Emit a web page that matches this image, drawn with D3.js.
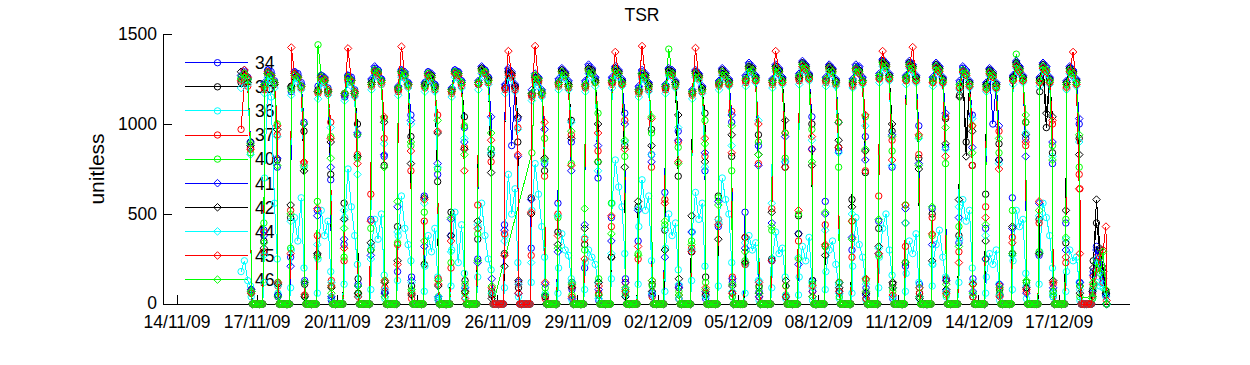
<!DOCTYPE html>
<html><head><meta charset="utf-8">
<script src="https://cdn.jsdelivr.net/npm/d3@7"></script>
<style>body{margin:0;background:#fff}svg{display:block}text{font-family:Arial,"Liberation Sans",sans-serif}</style>
</head><body><svg id="c" width="1250" height="365"></svg>
<script>
// ---------- data ----------
const title = "TSR";
const yLabel = "unitless";
const seriesNames = ["34","35","36","37","40","41","42","44","45","46"];
const seriesColors = ["#0000ff","#000000","#00ffff","#ff0000","#00ff00","#0000ff","#000000","#00ffff","#ff0000","#00ff00"];
const seriesMarkers = ["circle","circle","circle","circle","circle","diamond","diamond","diamond","diamond","diamond"];
const firstDay = "2009-11-16";          // day index 0
const sampleHours = [0.7,2.1,3.5,4.9,6,6.6,9.5,12.5,15.5,18,18.6,19.8,21.1,22.4]; // hour of day of each value
const yTicks = [0,500,1000,1500];
const xTickDates = ["2009-11-14","2009-11-17","2009-11-20","2009-11-23","2009-11-26","2009-11-29","2009-12-02","2009-12-05","2009-12-08","2009-12-11","2009-12-14","2009-12-17"];
// one string per day; "-" = no sample, "n" = break in the line
const s34 = ["- - - - - - 1250 1290 1260 870 60 0 0 0","0 0 0 0 410 1220 1300 1290 1240 760 40 0 0 0","0 0 0 0 260 1180 1290 1280 1230 1010 130 0 0 0","0 0 0 0 520 1210 1270 1250 1200 690 20 0 0 0","0 0 0 0 330 1150 1270 1260 1190 940 110 0 0 0","0 0 0 0 470 1240 1310 1300 1250 820 70 0 0 0","0 0 0 0 180 1200 1300 1280 1230 1050 150 0 0 0","0 0 0 0 600 1230 1290 1270 1220 720 30 0 0 0","0 0 0 0 380 1190 1300 1290 1240 980 90 0 0 0","0 0 0 0 250 1220 1310 1300 1260 860 50 0 0 0","0 0 0 0 440 1210 1300 880 1210 1030 120 0 0 0","0 0 0 0 310 1170 1270 1250 1180 780 40 0 0 0","0 0 0 0 560 1240 1300 1280 1230 900 80 0 0 0","0 0 0 0 200 1230 1320 1300 1250 700 20 0 0 0","0 0 0 0 480 1250 1310 1290 1240 1060 140 0 0 0","0 0 0 0 350 1200 1290 1270 1220 830 60 0 0 0","0 0 0 0 620 1210 1300 1290 1230 960 100 0 0 0","0 0 0 0 290 1180 1290 1270 1200 740 30 0 0 0","0 0 0 0 430 1230 1300 1280 1240 1010 120 0 0 0","0 0 0 0 510 1260 1330 1310 1260 880 70 0 0 0","0 0 0 0 240 1240 1320 1300 1250 790 40 0 0 0","0 0 0 0 390 1270 1340 1320 1270 1040 130 0 0 0","0 0 0 0 570 1250 1320 1300 1240 850 60 0 0 0","0 0 0 0 300 1240 1320 1310 1250 930 90 0 0 0","0 0 0 0 460 1270 1350 1330 1270 760 30 0 0 0","0 0 0 0 210 1260 1340 1320 1260 990 110 0 0 0","0 0 0 0 530 1250 1330 1310 1250 870 70 0 0 0","0 0 0 0 340 1230 1310 1290 1230 1050 140 0 0 0","0 0 0 0 420 1220 1300 1000 1220 800 50 0 0 0","0 0 0 0 590 1260 1340 1310 1260 920 90 0 0 0","0 0 0 0 270 1250 1330 1310 1250 780 40 0 0 0","0 0 0 0 450 1230 1310 1290 1240 1000 120 0 0 0","0 0 0 0 60 180 320 260 150 60 0 - - -"];
const s35 = ["- - - - - - 1230 1280 1250 900 80 0 0 0","0 0 0 0 350 1200 1290 1270 1230 800 50 0 0 0","0 0 0 0 480 1210 1270 1260 1210 960 110 0 0 0","0 0 0 0 270 1190 1260 1240 1180 720 30 0 0 0","0 0 0 0 560 1170 1250 1240 1170 1000 140 0 0 0","0 0 0 0 300 1220 1290 1280 1240 770 60 0 0 0","0 0 0 0 430 1190 1280 1270 1220 930 100 0 0 0","0 0 0 0 220 1210 1270 1250 1200 680 20 0 0 0","0 0 0 0 510 1180 1290 1270 1230 1040 130 0 0 0","0 0 0 0 360 1230 1300 1290 1240 830 70 0 0 0","0 0 0 0 280 1200 1280 1270 1200 900 90 0 0 0","0 0 0 0 590 1160 1250 1240 1170 740 40 0 0 0","0 0 0 0 400 1220 1290 1270 1210 1020 120 0 0 0","0 0 0 0 330 1210 1300 1290 1240 790 50 0 0 0","0 0 0 0 260 1230 1300 1280 1230 880 80 0 0 0","0 0 0 0 540 1180 1270 1260 1200 970 110 0 0 0","0 0 0 0 410 1200 1290 1280 1220 710 30 0 0 0","0 0 0 0 290 1170 1280 1260 1190 1060 150 0 0 0","0 0 0 0 600 1220 1290 1270 1230 820 60 0 0 0","0 0 0 0 370 1240 1310 1300 1250 940 100 0 0 0","0 0 0 0 250 1230 1310 1290 1240 760 40 0 0 0","0 0 0 0 490 1250 1330 1310 1260 1000 130 0 0 0","0 0 0 0 320 1240 1310 1290 1230 870 70 0 0 0","0 0 0 0 580 1220 1300 1290 1240 730 30 0 0 0","0 0 0 0 420 1260 1340 1320 1260 960 110 0 0 0","0 0 0 0 230 1250 1330 1310 1250 810 60 0 0 0","0 0 0 0 500 1240 1320 1300 1240 1030 140 0 0 0","0 0 0 0 380 1160 1290 900 1220 770 40 0 0 0","0 0 0 0 610 1210 1290 1270 1210 890 80 0 0 0","0 0 0 0 280 1250 1330 1300 1250 1010 120 0 0 0","0 0 0 0 470 1180 1310 980 1240 840 70 0 0 0","0 0 0 0 340 1220 1300 1280 1230 920 100 0 0 0","0 0 0 0 80 240 450 300 200 70 0 - - -"];
const s36 = ["- - - - - - 180 240 130 100 40 0 0 0","0 0 0 0 120 700 1240 1150 560 250 60 0 0 0","0 0 0 0 90 300 480 350 590 200 40 0 0 0","0 0 0 0 60 250 520 380 460 180 30 0 0 0","0 0 0 0 110 480 750 540 380 220 50 0 0 0","0 0 0 0 80 320 470 360 500 160 30 0 0 0","0 0 0 0 130 380 600 420 330 240 60 0 0 0","0 0 0 0 70 210 380 290 420 150 20 0 0 0","0 0 0 0 100 300 510 230 440 170 40 0 0 0","0 0 0 0 150 420 560 380 250 190 50 0 0 0","0 0 0 0 90 380 720 500 640 230 40 0 0 0","0 0 0 0 120 520 780 610 430 260 60 0 0 0","0 0 0 0 60 200 390 300 270 140 20 0 0 0","0 0 0 0 80 230 300 260 220 120 30 0 0 0","0 0 0 0 140 560 800 650 540 280 50 0 0 0","0 0 0 0 110 430 690 520 600 240 40 0 0 0","0 0 0 0 70 310 500 380 450 190 30 0 0 0","0 0 0 0 130 400 620 470 560 210 50 0 0 0","0 0 0 0 100 450 700 580 500 230 40 0 0 0","0 0 0 0 60 220 380 300 340 130 20 0 0 0","0 0 0 0 90 250 400 280 310 150 30 0 0 0","0 0 0 0 50 150 320 240 370 120 20 0 0 0","0 0 0 0 80 180 300 350 220 110 30 0 0 0","0 0 0 0 60 210 480 330 260 140 20 0 0 0","0 0 0 0 90 260 420 500 300 160 40 0 0 0","0 0 0 0 70 170 350 280 390 120 30 0 0 0","0 0 0 0 100 220 330 410 260 150 40 0 0 0","0 0 0 0 120 360 580 460 520 200 50 0 0 0","0 0 0 0 60 150 280 220 300 110 20 0 0 0","0 0 0 0 80 240 520 430 470 170 30 0 0 0","0 0 0 0 110 290 560 480 380 200 40 0 0 0","0 0 0 0 70 180 300 240 260 120 20 0 0 0","0 0 0 0 30 80 120 100 90 40 0 - - -"];
const s37 = ["- - - - - - 970 1230 1210 860 70 0 0 0","0 0 0 0 290 1190 1270 1260 1220 940 100 0 0 0","0 0 0 0 520 1200 1260 1250 1200 780 50 0 0 0","0 0 0 0 380 1170 1250 1230 1170 1010 130 0 0 0","0 0 0 0 240 1160 1240 1230 1160 830 60 0 0 0","0 0 0 0 610 1210 1280 1270 1220 920 90 0 0 0","0 0 0 0 330 1180 1270 1260 1210 740 30 0 0 0","0 0 0 0 460 1200 1260 1240 1190 1050 140 0 0 0","0 0 0 0 200 1170 1280 1260 1210 870 70 0 0 0","0 0 0 0 550 1220 1290 1280 1230 790 50 0 0 0","0 0 0 0 390 1190 1270 1260 1190 980 110 0 0 0","0 0 0 0 270 1150 1240 1230 1160 710 30 0 0 0","0 0 0 0 500 1210 1280 1260 1200 940 100 0 0 0","0 0 0 0 360 1200 1290 1280 1230 850 60 0 0 0","0 0 0 0 430 1220 1290 1270 1220 1020 120 0 0 0","0 0 0 0 250 1170 1260 1250 1190 760 40 0 0 0","0 0 0 0 580 1190 1280 1270 1210 900 90 0 0 0","0 0 0 0 310 1160 1270 1250 1180 820 60 0 0 0","0 0 0 0 470 1210 1280 1260 1220 1070 150 0 0 0","0 0 0 0 220 1230 1300 1290 1240 780 40 0 0 0","0 0 0 0 530 1220 1300 1280 1230 950 100 0 0 0","0 0 0 0 350 1240 1320 1300 1250 860 70 0 0 0","0 0 0 0 440 1230 1300 1280 1220 1010 120 0 0 0","0 0 0 0 260 1210 1290 1280 1230 740 30 0 0 0","0 0 0 0 600 1250 1330 1310 1250 910 90 0 0 0","0 0 0 0 320 1240 1320 1300 1240 830 60 0 0 0","0 0 0 0 480 1230 1310 1290 1230 1040 130 0 0 0","0 0 0 0 290 1200 1290 1270 1210 770 40 0 0 0","0 0 0 0 540 1200 1280 1260 1200 960 100 0 0 0","0 0 0 0 370 1240 1320 1290 1240 880 70 0 0 0","0 0 0 0 450 1230 1310 1290 1230 1000 110 0 0 0","0 0 0 0 230 1210 1290 1270 1220 720 640 0 0 0","0 0 0 0 50 150 260 200 120 50 0 - - -"];
const s40 = ["- - - - - - 1260 1280 1240 840 60 0 0 0","0 0 0 0 450 1210 1290 1270 1230 1000 120 0 0 0","0 0 0 0 310 1190 1280 1260 1210 760 40 0 0 0","0 0 0 0 570 1440 1270 1250 1190 930 100 0 0 0","0 0 0 0 260 1170 1260 1240 1180 810 60 0 0 0","0 0 0 0 420 1230 1300 1290 1240 1030 130 0 0 0","0 0 0 0 340 1200 1290 1280 1220 880 70 0 0 0","0 0 0 0 510 1220 1280 1260 1210 750 40 0 0 0","0 0 0 0 230 1180 1290 1280 1230 990 110 0 0 0","0 0 0 0 390 1230 1300 1290 1250 860 60 0 - -","- - - - - - - - - - - - - -","- - - - - 840 1270 1240 1180 920 90 0 0 0","0 0 0 0 480 1220 1290 1270 1220 780 50 0 0 0","0 0 0 0 300 1210 1300 1290 1240 1060 140 0 0 0","0 0 0 0 560 1240 1300 1280 1230 820 60 0 0 0","0 0 0 0 280 1180 1280 1260 1210 950 100 0 0 0","0 0 0 0 440 1210 1416 1280 1220 870 70 0 0 0","0 0 0 0 350 1170 1280 1260 1190 1020 120 0 0 0","0 0 0 0 590 1220 1290 1270 1230 740 40 0 0 0","0 0 0 0 240 1250 1320 1300 1250 900 90 0 0 0","0 0 0 0 410 1230 1310 1290 1240 810 50 0 0 0","0 0 0 0 500 1260 1330 1310 1260 970 110 0 0 0","0 0 0 0 320 1240 1310 1290 1230 760 40 0 0 0","0 0 0 0 460 1230 1300 1290 1240 1040 130 0 0 0","0 0 0 0 270 1260 1340 1320 1260 850 70 0 0 0","0 0 0 0 550 1250 1330 1310 1250 930 90 0 0 0","0 0 0 0 380 1240 1320 1300 1240 780 50 0 0 0","0 0 0 0 430 1210 1300 1280 1220 990 110 0 0 0","0 0 0 0 250 1200 1290 1270 1210 840 60 0 0 0","0 0 0 0 520 1250 1388 1300 1250 1010 120 0 0 0","0 0 0 0 290 1240 1320 1300 1240 880 70 0 0 0","0 0 0 0 470 1220 1300 1280 1230 760 40 - - -","- - - - 30 100 200 290 150 60 0 - - -"];
const s41 = ["- - - - - - 1270 1300 1250 900 80 0 0 0","0 0 0 0 380 1230 1300 1280 1230 810 50 0 0 0","0 0 0 0 210 1200 1290 1270 1220 1000 120 0 0 0","0 0 0 0 490 1180 1270 1260 1190 760 40 0 0 0","0 0 0 0 360 1160 1270 1250 1180 950 100 0 0 0","0 0 0 0 270 1250 1320 1300 1250 830 60 0 0 0","0 0 0 0 540 1210 1300 1290 1230 1020 130 0 0 0","0 0 0 0 320 1230 1290 1280 1220 780 40 0 0 0","0 0 0 0 470 1200 1300 1290 1240 900 90 0 0 0","0 0 0 0 230 1240 1320 1300 1260 1040 140 0 0 0","0 0 0 0 410 1220 1310 1290 1220 820 60 0 0 0","0 0 0 0 580 1190 1280 1260 1190 970 110 0 0 0","0 0 0 0 290 1250 1310 1290 1240 740 30 0 0 0","0 0 0 0 440 1240 1330 1310 1260 880 80 0 0 0","0 0 0 0 350 1260 1320 1300 1250 1000 120 0 0 0","0 0 0 0 520 1210 1300 1280 1230 790 50 0 0 0","0 0 0 0 260 1220 1310 1300 1240 910 90 0 0 0","0 0 0 0 400 1190 1300 1280 1210 840 70 0 0 0","0 0 0 0 570 1240 1310 1290 1250 1050 140 0 0 0","0 0 0 0 310 1270 1340 1320 1270 770 40 0 0 0","0 0 0 0 450 1250 1330 1310 1260 930 100 0 0 0","0 0 0 0 220 1280 1350 1330 1280 860 70 0 0 0","0 0 0 0 500 1260 1330 1310 1250 1010 120 0 0 0","0 0 0 0 370 1250 1330 1320 1260 800 50 0 0 0","0 0 0 0 280 1280 1360 1340 1280 940 90 0 0 0","0 0 0 0 530 1270 1350 1330 1270 780 40 0 0 0","0 0 0 0 330 1260 1340 1320 1260 1060 130 0 0 0","0 0 0 0 480 1240 1320 1300 1240 870 70 0 0 0","0 0 0 0 250 1230 1310 1290 1230 990 110 0 0 0","0 0 0 0 420 1270 1350 1320 1270 820 60 0 0 0","0 0 0 0 560 1260 1340 1320 1260 900 90 0 0 0","0 0 0 0 300 1240 1320 1300 1250 1030 120 0 0 0","0 0 0 0 40 160 300 230 140 50 0 - - -"];
const s42 = ["- - - - - - 1290 1270 1230 880 70 0 0 0","0 0 0 0 310 1220 1280 1270 1220 970 110 0 0 0","0 0 0 0 550 1210 1280 1260 1210 740 40 0 0 0","0 0 0 0 280 1180 1260 1240 1180 900 90 0 0 0","0 0 0 0 470 1170 1260 1240 1170 820 60 0 0 0","0 0 0 0 340 1230 1300 1290 1240 1010 120 0 0 0","0 0 0 0 240 1200 1290 1270 1220 780 50 0 0 0","0 0 0 0 590 1220 1280 1270 1210 950 100 0 0 0","0 0 0 0 380 1190 1290 1280 1230 860 70 0 0 0","0 0 0 0 460 1230 1310 1290 1250 730 30 0 0 0","0 0 0 0 210 1200 1290 1280 1210 1040 130 0 0 0","0 0 0 0 500 1170 1260 1250 1170 810 50 0 0 0","0 0 0 0 330 1230 1300 1280 1220 920 90 0 0 0","0 0 0 0 420 1220 1310 1300 1240 1000 120 0 0 0","0 0 0 0 260 1240 1310 1290 1240 760 40 0 0 0","0 0 0 0 570 1190 1280 1270 1220 880 70 0 0 0","0 0 0 0 300 1210 1300 1290 1230 1050 140 0 0 0","0 0 0 0 490 1180 1290 1270 1200 790 50 0 0 0","0 0 0 0 360 1230 1300 1280 1240 940 100 0 0 0","0 0 0 0 230 1250 1320 1310 1260 830 60 0 0 0","0 0 0 0 510 1240 1320 1300 1250 1020 130 0 0 0","0 0 0 0 390 1260 1340 1320 1270 770 40 0 0 0","0 0 0 0 270 1250 1320 1300 1240 910 90 0 0 0","0 0 0 0 540 1230 1310 1300 1240 850 60 0 0 0","0 0 0 0 320 1270 1350 1330 1270 1000 120 0 0 0","0 0 0 0 450 1260 1340 1320 1260 750 30 0 0 0","0 0 0 0 240 1250 1330 1310 1250 890 80 0 0 0","0 0 0 0 580 1150 1300 820 1230 960 110 0 0 0","0 0 0 0 350 1220 1300 1280 1220 800 50 0 0 0","0 0 0 0 430 1260 1340 1310 1260 940 90 0 0 0","0 0 0 0 280 1250 1330 1060 1250 1040 130 0 0 0","0 0 0 0 520 1230 1310 1290 1240 830 60 0 0 0","0 0 0 0 70 200 580 310 180 60 0 - - -"];
const s44 = ["- - - - - - 1200 1260 1220 830 70 0 0 0","0 0 0 0 270 1170 1260 1240 1200 930 100 0 0 0","0 0 0 0 460 1160 1250 1230 1190 770 50 0 0 0","0 0 0 0 330 1140 1230 1220 1160 980 120 0 0 0","0 0 0 0 520 1130 1230 1210 1150 720 40 0 0 0","0 0 0 0 250 1190 1270 1260 1220 890 80 0 0 0","0 0 0 0 400 1160 1260 1250 1200 1000 120 0 0 0","0 0 0 0 560 1180 1250 1230 1180 760 40 0 0 0","0 0 0 0 290 1150 1260 1250 1200 920 90 0 0 0","0 0 0 0 440 1190 1280 1260 1220 840 60 0 0 0","0 0 0 0 350 1170 1260 1250 1180 970 110 0 0 0","0 0 0 0 230 1130 1230 1210 1150 790 50 0 0 0","0 0 0 0 490 1190 1270 1250 1190 1010 120 0 0 0","0 0 0 0 370 1180 1280 1260 1210 740 30 0 0 0","0 0 0 0 280 1200 1280 1260 1210 900 80 0 0 0","0 0 0 0 530 1150 1250 1240 1180 830 60 0 0 0","0 0 0 0 420 1170 1270 1260 1200 980 110 0 0 0","0 0 0 0 300 1140 1260 1240 1170 760 40 0 0 0","0 0 0 0 470 1190 1270 1250 1210 880 70 0 0 0","0 0 0 0 340 1210 1290 1280 1230 1020 130 0 0 0","0 0 0 0 560 1200 1290 1270 1220 790 50 0 0 0","0 0 0 0 260 1220 1310 1290 1240 910 90 0 0 0","0 0 0 0 410 1210 1290 1270 1210 840 60 0 0 0","0 0 0 0 500 1200 1290 1280 1220 990 110 0 0 0","0 0 0 0 310 1230 1320 1300 1240 770 40 0 0 0","0 0 0 0 450 1220 1310 1290 1230 920 90 0 0 0","0 0 0 0 220 1210 1300 1280 1220 860 70 0 0 0","0 0 0 0 540 1190 1280 1260 1200 1030 120 0 0 0","0 0 0 0 380 1180 1270 1250 1190 780 50 0 0 0","0 0 0 0 270 1220 1310 1280 1230 950 100 0 0 0","0 0 0 0 490 1210 1300 1280 1220 820 60 0 0 0","0 0 0 0 360 1190 1280 1260 1210 900 80 0 0 0","0 0 0 0 40 120 250 180 110 40 0 - - -"];
const s45 = ["- - - - - - 1240 1300 1260 860 60 0 0 0","0 0 0 0 400 1200 1290 1270 1230 990 120 0 0 0","0 0 0 0 280 1425 1280 1260 1210 790 50 0 0 0","0 0 0 0 530 1180 1260 1250 1190 920 100 0 0 0","0 0 0 0 310 1170 1420 1240 1180 780 40 0 0 0","0 0 0 0 460 1220 1290 1280 1230 1040 130 0 0 0","0 0 0 0 220 1190 1430 1270 1220 850 60 0 0 0","0 0 0 0 580 1210 1270 1260 1200 960 110 0 0 0","0 0 0 0 350 1180 1280 1270 1220 740 30 0 0 0","0 0 0 0 420 1220 1300 1280 1240 910 90 0 0 0","0 0 0 0 270 1200 1405 1270 1200 830 60 0 0 0","0 0 0 0 510 1160 1433 1240 1170 1010 120 0 0 0","0 0 0 0 380 1220 1290 1270 1210 770 40 0 0 0","0 0 0 0 250 1210 1300 1280 1230 950 100 0 0 0","0 0 0 0 490 1230 1400 1280 1220 860 70 0 0 0","0 0 0 0 320 1180 1433 1260 1210 1030 130 0 0 0","0 0 0 0 560 1200 1290 1270 1220 790 50 0 0 0","0 0 0 0 290 1170 1422 1260 1190 920 90 0 0 0","0 0 0 0 440 1220 1290 1270 1220 840 60 0 0 0","0 0 0 0 370 1240 1310 1300 1240 1000 120 0 0 0","0 0 0 0 240 1230 1405 1290 1230 760 40 0 0 0","0 0 0 0 520 1250 1320 1300 1250 930 100 0 0 0","0 0 0 0 330 1240 1310 1290 1230 870 70 0 0 0","0 0 0 0 460 1220 1300 1280 1230 1050 140 0 0 0","0 0 0 0 280 1250 1405 1320 1250 800 50 0 0 0","0 0 0 0 550 1240 1320 1427 1240 940 90 0 0 0","0 0 0 0 390 1230 1310 1290 1230 820 60 0 0 0","0 0 0 0 230 1200 1290 1270 1210 990 110 0 0 0","0 0 0 0 480 1190 1280 1260 1200 750 40 0 0 0","0 0 0 0 340 1240 1320 1290 1240 900 80 0 0 0","0 0 0 0 570 1230 1310 1290 1230 1020 120 0 0 0","0 0 0 0 260 1200 1290 1400 1220 640 280 0 0 0","0 0 0 0 40 110 190 260 300 430 20 - - -"];
const s46 = ["- - - - - - 1250 1280 1250 890 70 0 0 0","0 0 0 0 340 1220 1280 1270 1230 770 40 0 0 0","0 0 0 0 500 1200 1270 1260 1210 1000 120 0 0 0","0 0 0 0 260 1180 1260 1240 1180 810 60 0 0 0","0 0 0 0 420 1170 1260 1240 1170 940 100 0 0 0","0 0 0 0 300 1220 1300 1290 1240 760 40 0 0 0","0 0 0 0 570 1200 1290 1270 1220 900 80 0 0 0","0 0 0 0 350 1210 1280 1260 1200 1020 130 0 0 0","0 0 0 0 480 1190 1290 1280 1230 830 60 0 0 0","0 0 0 0 240 1230 1300 1290 1240 950 100 n - -","- - - - - - - - - - - - - -","- - - - - 1170 1270 1250 1170 800 50 0 0 0","0 0 0 0 310 1230 1290 1270 1210 960 110 0 0 0","0 0 0 0 530 1220 1300 1280 1230 790 50 0 0 0","0 0 0 0 390 1240 1300 1280 1230 910 90 0 0 0","0 0 0 0 270 1190 1280 1260 1210 1040 130 0 0 0","0 0 0 0 460 1210 1290 1280 1220 780 50 0 0 0","0 0 0 0 330 1180 1280 1260 1190 890 80 0 0 0","0 0 0 0 550 1230 1290 1270 1230 990 110 0 0 0","0 0 0 0 290 1250 1310 1300 1250 830 60 0 0 0","0 0 0 0 430 1240 1310 1290 1240 950 100 0 0 0","0 0 0 0 250 1270 1330 1310 1260 790 40 0 0 0","0 0 0 0 510 1250 1310 1290 1230 1010 120 0 0 0","0 0 0 0 360 1240 1310 1290 1240 860 70 0 0 0","0 0 0 0 470 1270 1340 1320 1260 930 90 0 0 0","0 0 0 0 230 1260 1330 1310 1250 770 40 0 0 0","0 0 0 0 540 1250 1320 1300 1240 980 110 0 0 0","0 0 0 0 320 1220 1300 1280 1220 840 60 0 0 0","0 0 0 0 440 1210 1290 1270 1210 920 90 0 0 0","0 0 0 0 280 1250 1330 1300 1250 1050 130 0 0 0","0 0 0 0 520 1240 1320 1300 1240 800 50 0 0 0","0 0 0 0 370 1220 1300 1280 1230 940 100 n - -","- - - - 40 120 230 170 290 80 0 - - -"];
const seriesData = [s34,s35,s36,s37,s40,s41,s42,s44,s45,s46];

// ---------- build ----------
const svg = d3.select("#c");
const W = 1250, H = 365;
const m = {left:163, right:1130, top:34, bottom:304};
const parse = d3.utcParse("%Y-%m-%d");
const day0 = parse(firstDay);
const x = d3.scaleUtc()
  .domain([new Date(Date.UTC(2009,10,13,11,25)), new Date(Date.UTC(2009,11,19,15,36))])
  .range([m.left, m.right]);
const y = d3.scaleLinear().domain([0,1500]).range([m.bottom, m.top]);

function buildSeries(days){
  const pts = [];
  days.forEach((str, di) => {
    str.trim().split(/\s+/).forEach((tok, hi) => {
      if (tok === "-") return;
      const t = new Date(day0.getTime() + (di*24 + sampleHours[hi]) * 3600e3);
      if (tok === "n") { pts.push({t, v:null}); return; }
      pts.push({t, v:+tok});
    });
  });
  return pts;
}

svg.append("rect").attr("width",W).attr("height",H).attr("fill","#fff");

// axes
const fs = 17.5;
const gx = svg.append("g").attr("transform",`translate(0,${m.bottom})`);
gx.append("line").attr("x1",m.left).attr("x2",m.right).attr("stroke","#000").attr("shape-rendering","crispEdges");
xTickDates.map(parse).forEach(d => {
  gx.append("line").attr("x1",x(d)).attr("x2",x(d)).attr("y1",0).attr("y2",-9).attr("stroke","#000").attr("shape-rendering","crispEdges");
  gx.append("text").attr("x",x(d)).attr("y",24).attr("text-anchor","middle").attr("font-size",fs).text(d3.utcFormat("%d/%m/%y")(d));
});
const gy = svg.append("g");
gy.append("line").attr("x1",m.left).attr("x2",m.left).attr("y1",m.top).attr("y2",m.bottom).attr("stroke","#000").attr("shape-rendering","crispEdges");
yTicks.forEach(v => {
  gy.append("line").attr("x1",m.left).attr("x2",m.left+9).attr("y1",y(v)).attr("y2",y(v)).attr("stroke","#000").attr("shape-rendering","crispEdges");
  gy.append("text").attr("x",m.left-6).attr("y",y(v)).attr("dy", v === 0 ? "0.3em" : "0.35em").attr("text-anchor","end").attr("font-size",fs).text(v);
});
svg.append("text").attr("x",642).attr("y",21).attr("text-anchor","middle").attr("font-size",fs).text(title);
svg.append("text").attr("transform",`translate(104,${(m.top+m.bottom)/2}) rotate(-90)`).attr("text-anchor","middle").attr("font-size",21).text(yLabel);

const diamond = "M0,-3.8L3.8,0L0,3.8L-3.8,0Z";
function marker(g, type, color, cx, cy){
  if (type === "circle") g.append("circle").attr("cx",cx).attr("cy",cy).attr("r",3.2).attr("fill","none").attr("stroke",color).attr("stroke-width",1);
  else g.append("path").attr("d",diamond).attr("transform",`translate(${cx},${cy})`).attr("fill","none").attr("stroke",color).attr("stroke-width",1);
}

// legend (drawn beneath the data)
const leg = svg.append("g");
seriesNames.forEach((name, i) => {
  const ly = 62.7 + i*24.1;
  leg.append("line").attr("x1",185).attr("x2",248).attr("y1",ly).attr("y2",ly).attr("stroke",seriesColors[i]).attr("shape-rendering","crispEdges");
  marker(leg, seriesMarkers[i], seriesColors[i], 217.5, ly);
  leg.append("text").attr("x",255).attr("y",ly).attr("dy","0.36em").attr("font-size",fs).text(name);
});

// series
const line = d3.line().defined(d => d.v !== null).x(d => x(d.t)).y(d => y(d.v));
seriesData.forEach((days, i) => {
  const pts = buildSeries(days);
  const g = svg.append("g");
  g.append("path").attr("d", line(pts)).attr("fill","none").attr("stroke",seriesColors[i]).attr("stroke-width",1).attr("shape-rendering","crispEdges");
  pts.filter(p => p.v !== null).forEach(p => marker(g, seriesMarkers[i], seriesColors[i], x(p.t), y(p.v)));
});
</script></body></html>
